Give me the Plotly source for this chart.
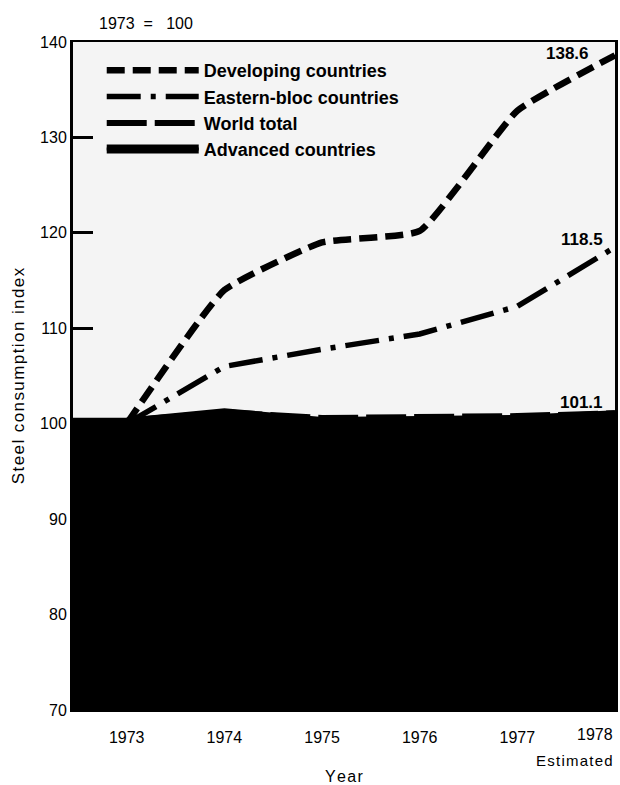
import plotly.graph_objects as go

years = [1973, 1974, 1975, 1976, 1977, 1978]
developing = [100, 114.0, 119.0, 120.2, 132.8, 138.6]
eastern = [100, 106.0, 107.8, 109.4, 112.3, 118.5]
world = [100.3, 101.2, 100.6, 100.7, 100.8, 101.1]
advanced = [100.3, 101.3, 100.4, 100.5, 100.6, 101.1]

x_range = [1972.45, 1978.0]
y_range = [70, 140]
y_ticks = [70, 80, 90, 100, 110, 120, 130, 140]
x_tick_labels = ["1973", "1974", "1975", "1976", "1977"]
end_labels = ["138.6", "118.5", "101.1"]

FONT = "Liberation Sans"
HS = "\u200a"


def spaced(s):
    return HS.join(list(s))


fig = go.Figure()

# Advanced countries (dark filled area)
fig.add_trace(go.Scatter(
    x=[x_range[0]] + years, y=[advanced[0]] + advanced,
    mode="lines", name="<b>Advanced countries</b>",
    line=dict(color="black", width=6),
    fill="tozeroy", fillcolor="black", legendrank=4,
))
fig.add_trace(go.Scatter(
    x=years, y=world, mode="lines", name="<b>World total</b>",
    line=dict(color="black", width=6, dash="40px,8px"), legendrank=3,
))
fig.add_trace(go.Scatter(
    x=years, y=eastern, mode="lines", name="<b>Eastern-bloc countries</b>",
    line=dict(color="black", width=5.5, dash="34px,10px,5px,10px"), legendrank=2,
))
fig.add_trace(go.Scatter(
    x=years, y=developing, mode="lines", name="<b>Developing countries</b>",
    line=dict(color="black", width=6.5, dash="18px,8px", shape="spline", smoothing=0.4),
    legendrank=1,
))

annotations = [
    dict(x=years[-1], y=developing[-1], text="<b>" + end_labels[0] + "</b>",
         xanchor="right", yanchor="middle", xshift=-24, yshift=2, showarrow=False,
         font=dict(family=FONT, size=17, color="black")),
    dict(x=years[-1], y=eastern[-1], text="<b>" + end_labels[1] + "</b>",
         xanchor="right", yanchor="middle", xshift=-10, yshift=8, showarrow=False,
         font=dict(family=FONT, size=17, color="black")),
    dict(x=years[-1], y=world[-1], text="<b>" + end_labels[2] + "</b>",
         xanchor="right", yanchor="middle", xshift=-10, yshift=11, showarrow=False,
         font=dict(family=FONT, size=17, color="black")),
    dict(x=years[-1], y=0, yref="paper", text="1978", xanchor="right", yanchor="top",
         yshift=-14, showarrow=False, font=dict(family=FONT, size=16, color="black")),
    dict(x=1, xref="paper", y=0, yref="paper", text=spaced("Estimated"),
         xanchor="right", yanchor="top", yshift=-40, showarrow=False,
         font=dict(family=FONT, size=15, color="black")),
    dict(x=0.044, xref="paper", y=1, yref="paper",
         text="1973\u00a0\u00a0=\u00a0\u00a0\u00a0100",
         xanchor="left", yanchor="bottom", yshift=8, showarrow=False,
         font=dict(family=FONT, size=16, color="black")),
]

fig.update_layout(
    width=620, height=785,
    margin=dict(l=73, r=2, t=42, b=66),
    paper_bgcolor="white", plot_bgcolor="#f4f4f4",
    font=dict(family=FONT, size=16, color="black"),
    showlegend=True,
    legend=dict(x=0.053, y=0.985, xanchor="left", yanchor="top",
                bgcolor="rgba(0,0,0,0)", font=dict(family=FONT, size=18, color="black"),
                itemwidth=92, tracegroupgap=0),
    annotations=annotations,
)
fig.update_xaxes(
    range=x_range, tickvals=years[:-1], ticktext=x_tick_labels,
    showgrid=False, zeroline=False, ticks="",
    showline=True, linecolor="black", linewidth=2, mirror=True,
    tickfont=dict(family=FONT, size=16), ticklabelstandoff=12,
    title=dict(text=spaced("Year"), font=dict(family=FONT, size=16), standoff=26),
)
fig.update_yaxes(
    range=y_range, tickvals=y_ticks, showgrid=False, zeroline=False,
    ticks="inside", ticklen=20, tickwidth=3, tickcolor="black",
    showline=True, linecolor="black", linewidth=3, mirror=True,
    tickfont=dict(family=FONT, size=16),
    title=dict(text=spaced("Steel consumption index"), font=dict(family=FONT, size=17), standoff=12),
)

fig.write_html(
    "out.html",
    config={"displayModeBar": False},
    post_script="document.body.style.margin='0';document.body.style.overflow='hidden';",
)
